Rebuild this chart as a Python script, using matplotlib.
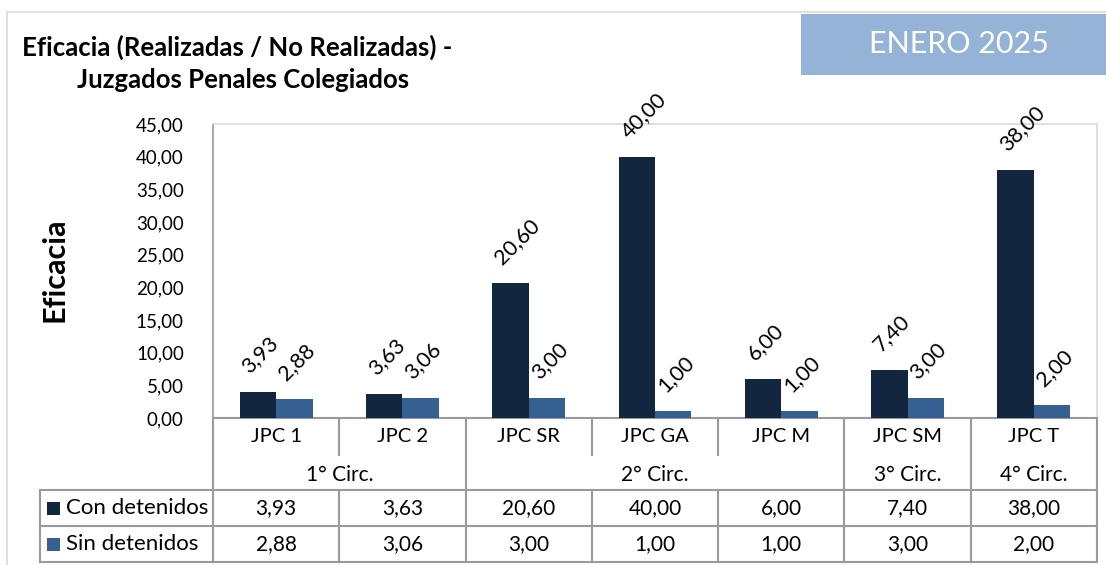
import matplotlib
matplotlib.use("Agg")
import matplotlib.pyplot as plt
from matplotlib.lines import Line2D
from matplotlib.patches import Rectangle
from matplotlib.transforms import blended_transform_factory

# ---- data ----
categories = ["JPC 1", "JPC 2", "JPC SR", "JPC GA", "JPC M", "JPC SM", "JPC T"]
groups = ["1° Circ.", "2° Circ.", "3° Circ.", "4° Circ."]
group_spans = [(0, 1), (2, 4), (5, 5), (6, 6)]   # category index ranges
con_detenidos = [3.93, 3.63, 20.60, 40.00, 6.00, 7.40, 38.00]
sin_detenidos = [2.88, 3.06, 3.00, 1.00, 1.00, 3.00, 2.00]
series_names = ["Con detenidos", "Sin detenidos"]
yticks = [0, 5, 10, 15, 20, 25, 30, 35, 40, 45]

title_line1 = "Eficacia (Realizadas / No Realizadas) -"
title_line2 = "Juzgados Penales Colegiados"
banner = "ENERO 2025"
ylabel = "Eficacia"

C_DARK = "#13263f"
C_LIGHT = "#376092"
C_BANNER = "#95b3d7"
C_LINE = "#9a9a9a"
C_FRAME = "#d9d9d9"

plt.rcParams['font.family'] = ['Lato', 'DejaVu Sans']

W, H = 1106, 565
fig = plt.figure(figsize=(W / 100, H / 100), dpi=100)


def fx(x):
    return x / W


def fy(y):
    return 1 - y / H


# outer chart frame (top and left)
fig.add_artist(Line2D([fx(7), fx(W)], [fy(12), fy(12)], color=C_FRAME, lw=1.2))
fig.add_artist(Line2D([fx(7), fx(7)], [fy(12), fy(H)], color=C_FRAME, lw=1.2))

# plot area
L, R, T, B = 213, 1097, 124, 418
ax = fig.add_axes([fx(L), fy(B), fx(R - L), (B - T) / H])
n = len(categories)
ax.set_xlim(-0.5, n - 0.5)
ax.set_ylim(0, 45)
w = 0.289
xs = list(range(n))
ax.bar([x - w / 2 for x in xs], con_detenidos, width=w, color=C_DARK, zorder=3)
ax.bar([x + w / 2 for x in xs], sin_detenidos, width=w, color=C_LIGHT, zorder=3)


def fmt(v):
    return f"{v:.2f}".replace(".", ",")


for vals, off in ((con_detenidos, -w / 2), (sin_detenidos, w / 2)):
    for x, v in zip(xs, vals):
        ax.annotate(fmt(v), (x + off, v), xytext=(-4, 11), textcoords="offset points",
                    rotation=45, rotation_mode="anchor", ha="left", va="bottom",
                    fontsize=15.5, color="#000000", zorder=5)

ax.set_yticks(yticks)
ax.set_yticklabels([fmt(t) for t in yticks], fontsize=13.5)
ax.tick_params(axis="y", length=0, pad=21)
ax.set_xticks([])
for s in ("top", "right"):
    ax.spines[s].set_color(C_FRAME)
    ax.spines[s].set_linewidth(1.2)
ax.spines["left"].set_color(C_LINE)
ax.spines["left"].set_linewidth(1.2)
ax.spines["bottom"].set_color(C_LINE)
ax.spines["bottom"].set_linewidth(1.5)

# titles
fig.text(fx(22), fy(47), title_line1, fontsize=18.5, fontweight="bold", ha="left", va="center")
fig.text(fx(243), fy(80), title_line2, fontsize=18.5, fontweight="bold", ha="center", va="center")
fig.text(fx(55), fy(270), ylabel, fontsize=22, fontweight="bold", rotation=90,
         ha="center", va="center")

# banner
fig.add_artist(Rectangle((fx(801), fy(75)), fx(W - 801), (75 - 14) / H,
                         facecolor=C_BANNER, edgecolor="none"))
fig.text(fx(959), fy(44), banner, fontsize=22, color="white", ha="center", va="center")

# ---- data table below ----
tr = blended_transform_factory(ax.transData, fig.transFigure)
edges = [i - 0.5 for i in range(n + 1)]
lw = 1.5


def vline(xd, y0, y1):
    fig.add_artist(Line2D([xd, xd], [fy(y0), fy(y1)], color=C_LINE, lw=lw, transform=tr))


def hline_fig(x0, y):
    fig.add_artist(Line2D([fx(x0), fx(R)], [fy(y), fy(y)], color=C_LINE, lw=lw))


Y_CAT_TOP, Y_CAT_SEP, Y_GRP_BOT, Y_ROW1, Y_ROW2 = 418, 455, 490, 526, 562

# category labels
for x, c in zip(xs, categories):
    fig.text(x, fy(436), c, transform=tr, ha="center", va="center", fontsize=14.5)

# group labels
for g, (a, b) in zip(groups, group_spans):
    fig.text((a + b) / 2, fy(475), g, transform=tr, ha="center", va="center", fontsize=15)

# vertical lines
group_edges = set([edges[0], edges[-1]] + [b + 0.5 for (a, b) in group_spans])
for e in edges:
    if e in group_edges:
        vline(e, Y_CAT_TOP, Y_ROW2)
    else:
        vline(e, Y_CAT_TOP, Y_CAT_SEP)
        vline(e, Y_GRP_BOT, Y_ROW2)

# left column border
fig.add_artist(Line2D([fx(40), fx(40)], [fy(Y_GRP_BOT), fy(Y_ROW2)], color=C_LINE, lw=lw))
for y in (Y_GRP_BOT, Y_ROW1, Y_ROW2):
    hline_fig(40, y)

# rows
for (yc, name, vals, col) in ((508, series_names[0], con_detenidos, C_DARK),
                              (544, series_names[1], sin_detenidos, C_LIGHT)):
    fig.add_artist(Rectangle((fx(47), fy(yc + 7)), fx(13), 13 / H, facecolor=col,
                             edgecolor="none"))
    fig.text(fx(66), fy(yc), name, ha="left", va="center", fontsize=16)
    for x, v in zip(xs, vals):
        fig.text(x, fy(yc), fmt(v), transform=tr, ha="center", va="center", fontsize=15)

fig.savefig("out.png", dpi=100)
